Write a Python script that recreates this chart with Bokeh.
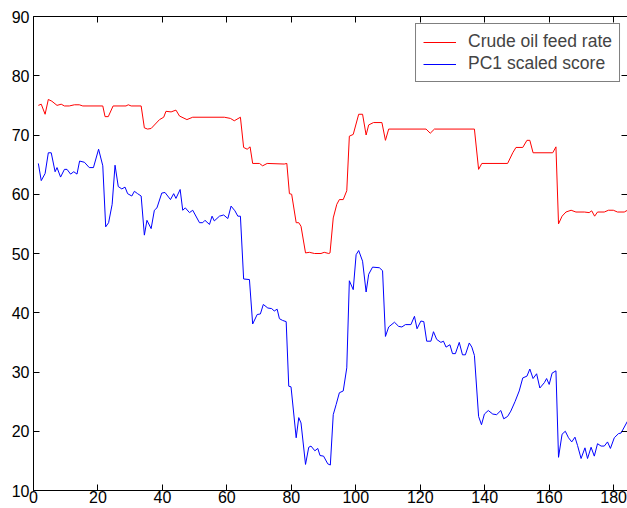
from bokeh.plotting import figure
from bokeh.models import (Range1d, LinearAxis, FixedTicker, Legend, LegendItem,
                          CustomLabelingPolicy)
from bokeh.embed import file_html
from bokeh.resources import INLINE

# Crude oil feed rate (red)
crude_x = [1.5, 2.4, 3.6, 4.6, 5.7, 7.3, 8.6, 9.6, 11.1, 12.7, 14.2, 15.3, 21.5, 22.2, 23.2,
           24.7, 28.7, 29.4, 30.3, 33.4, 34.4, 35.4, 36.5, 39.1, 40.4, 41.1, 42.7, 44.2, 45.3,
           47.6, 49.4, 59.2, 61.1, 62.3, 64.2, 65.2, 66.3, 67.2, 68.0, 70.1, 71.1, 72.5, 77.8,
           78.6, 79.4, 80.1, 81.5, 82.3, 83.0, 84.4, 85.6, 87.2, 89.2, 90.2, 91.6, 92.0, 93.0,
           94.1, 94.9, 96.1, 97.2, 98.0, 99.2, 100.9, 102.1, 103.2, 104.0, 105.5, 108.1, 109.2,
           110.2, 121.8, 123.1, 124.4, 136.8, 138.1, 139.1, 147.1, 148.7, 149.7, 151.8, 153.1,
           154.0, 155.0, 161.1, 162.1, 162.9, 164.0, 165.2, 166.8, 168.3, 170.9, 172.4, 173.2,
           174.1, 175.0, 177.1, 178.4, 179.9, 181.2, 183.3, 184.3]
crude_y = [75.0, 75.2, 73.5, 76.0, 75.7, 75.0, 75.2, 74.9, 74.9, 75.1, 75.1, 74.9, 74.9, 73.1, 73.1,
           74.9, 74.9, 75.1, 74.9, 74.9, 71.2, 71.0, 71.1, 72.6, 73.0, 74.0, 73.9, 74.2, 73.2,
           72.6, 73.0, 73.0, 72.8, 72.4, 73.0, 67.9, 67.6, 68.0, 65.2, 65.2, 64.8, 65.2, 65.1,
           65.2, 60.1, 60.0, 55.2, 55.2, 54.6, 50.1, 50.2, 50.0, 50.0, 50.2, 50.0, 50.1, 56.0,
           58.3, 59.1, 59.1, 60.6, 69.8, 70.1, 73.5, 73.5, 70.0, 71.7, 72.1, 72.1, 69.1,
           71.0, 71.0, 70.3, 71.0, 71.0, 64.2, 65.2, 65.2, 67.0, 67.9, 67.9, 69.1,
           69.1, 67.0, 67.0, 68.0, 55.0, 56.3, 57.0, 57.3, 57.0, 57.0, 56.9, 57.2,
           56.3, 57.0, 57.0, 57.3, 57.3, 57.0, 57.0, 57.3]

# PC1 scaled score (blue)
pc1_x = [1.5, 2.4, 3.6, 4.6, 5.5, 6.7, 7.3, 8.4, 9.6, 10.4, 11.5, 12.5, 13.5, 14.3, 15.8, 17.3,
         18.6, 20.2, 21.5, 22.4, 23.3, 24.4, 25.3, 26.3, 27.4, 28.4, 29.2, 30.5, 31.3, 32.3,
         33.4, 34.4, 35.2, 36.5, 37.5, 38.3, 39.8, 40.8, 42.5, 43.5, 44.2, 45.5, 46.3, 47.1,
         48.4, 49.4, 51.5, 52.5, 53.2, 54.6, 55.4, 56.1, 57.7, 59.0, 60.3, 61.3, 62.5, 63.4,
         64.2, 65.2, 67.0, 68.0, 69.4, 70.4, 71.3, 72.7, 73.9, 74.7, 75.6, 76.3, 77.3, 78.4,
         79.2, 79.9, 81.5, 82.3, 83.0, 84.4, 85.4, 86.1, 87.3, 88.2, 88.9, 90.0, 91.3, 92.1,
         93.0, 93.9, 94.9, 96.1, 97.2, 98.0, 99.2, 100.1, 100.9, 102.1, 103.2, 104.0, 105.2,
         107.3, 108.3, 109.2, 110.2, 112.0, 113.3, 114.3, 115.4, 117.1, 118.2, 119.0, 120.2,
         121.1, 122.0, 123.3, 124.1, 125.1, 126.4, 127.2, 128.0, 129.2, 130.0, 130.9, 132.1,
         133.1, 134.0, 135.2, 136.0, 136.8, 138.1, 139.0, 139.9, 141.1, 142.5, 143.7, 145.0,
         145.9, 147.1, 148.1, 149.4, 150.7, 151.8, 153.1, 154.0, 155.0, 156.1, 157.1, 158.5,
         159.2, 160.0, 160.9, 162.1, 162.9, 164.0, 165.0, 166.0, 167.0, 168.0, 168.8, 169.9,
         171.1, 171.9, 173.0, 174.0, 175.0, 176.1, 177.1, 178.1, 179.0, 180.2, 181.5, 182.3,
         184.3]
pc1_y = [65.2, 62.3, 63.5, 67.0, 67.0, 63.8, 64.5, 62.9, 64.2, 64.2, 63.4, 63.8, 63.4, 65.6, 65.4, 64.5,
         64.5, 67.6, 64.8, 54.5, 55.2, 58.3, 64.9, 61.3, 60.9, 61.2, 60.1, 59.7, 60.5, 60.1,
         59.7, 53.1, 55.6, 54.2, 57.3, 57.7, 60.2, 60.3, 59.1, 60.1, 59.3, 60.8, 57.3, 57.7,
         56.9, 57.3, 55.2, 55.2, 55.6, 54.9, 56.3, 55.5, 56.3, 56.5, 55.9, 58.0, 57.2, 56.3,
         56.3, 45.7, 45.6, 38.1, 39.7, 39.8, 41.4, 40.8, 40.7, 40.3, 40.6, 39.0, 38.7, 38.5,
         27.6, 27.5, 18.9, 22.3, 21.4, 14.4, 17.3, 17.5, 16.7, 17.1, 15.9, 15.8, 14.5, 14.3,
         22.8, 24.5, 26.5, 26.8, 30.7, 45.4, 43.9, 49.8, 50.5, 48.7, 43.5, 46.5, 47.7,
         47.6, 47.1, 36.0, 37.6, 38.4, 37.7, 37.6, 38.0, 38.0, 39.4, 37.3, 38.6,
         38.5, 35.2, 35.2, 36.8, 35.5, 35.0, 35.2, 34.2, 34.6, 33.1, 33.1, 35.0,
         32.9, 32.9, 34.9, 34.2, 32.8, 22.5, 21.1, 22.9, 23.5, 22.9, 22.8, 23.5,
         22.1, 22.5, 23.4, 25.0, 26.8, 29.0, 29.3, 30.5, 28.9, 29.7, 27.3, 28.2,
         28.9, 27.9, 29.8, 30.2, 15.6, 19.5, 20.0, 18.9, 18.2, 19.0, 17.6, 15.4,
         17.2, 15.4, 17.3, 15.8, 17.9, 17.5, 17.5, 18.2, 17.1, 18.9, 19.6, 19.7,
         21.7]

x_ticks = [0, 20, 40, 60, 80, 100, 120, 140, 160, 180]
y_ticks = [10, 20, 30, 40, 50, 60, 70, 80, 90]
labels = ["Crude oil feed rate", "PC1 scaled score"]

FONT = "Liberation Sans"

p = figure(width=627, height=508, output_backend="svg", toolbar_location=None,
           x_range=Range1d(0, 184.3), y_range=Range1d(10, 90),
           min_border_left=33, min_border_right=0, min_border_top=16, min_border_bottom=18,
           x_axis_location="below", y_axis_location="left")
p.outline_line_color = None
p.xgrid.visible = False
p.ygrid.visible = False
p.background_fill_color = "white"
p.border_fill_color = "white"

for ax, ticks in ((p.xaxis[0], x_ticks), (p.yaxis[0], y_ticks)):
    ax.ticker = FixedTicker(ticks=ticks)
    ax.minor_tick_line_color = None
    ax.major_tick_in = 6
    ax.major_tick_out = 0
    ax.axis_line_color = "black"
    ax.major_tick_line_color = "black"
    ax.major_label_text_font = FONT
    ax.major_label_text_font_size = "16px"
    ax.major_label_text_color = "black"
p.xaxis[0].major_label_standoff = 0
p.yaxis[0].major_label_standoff = 4

no_labels = CustomLabelingPolicy(code="return new Set()")

top_axis = LinearAxis(ticker=FixedTicker(ticks=x_ticks), major_label_text_font_size="0px",
                      major_label_standoff=0, major_tick_in=6, major_tick_out=0,
                      major_label_policy=no_labels,
                      minor_tick_line_color=None, axis_line_color="black")
right_axis = LinearAxis(ticker=FixedTicker(ticks=y_ticks), major_label_text_font_size="0px",
                        major_label_standoff=0, major_tick_in=6, major_tick_out=0,
                        major_label_policy=no_labels,
                        minor_tick_line_color=None, axis_line_color=None)
p.add_layout(top_axis, "above")
p.add_layout(right_axis, "right")

r1 = p.line(crude_x, crude_y, line_color="#ff0000", line_width=1)
r2 = p.line(pc1_x, pc1_y, line_color="#0000ff", line_width=1)

legend = Legend(items=[LegendItem(label=labels[0], renderers=[r1]),
                       LegendItem(label=labels[1], renderers=[r2])],
                location="top_right", margin=7, padding=7, spacing=1,
                glyph_width=33, glyph_height=18, label_height=18, label_standoff=12,
                label_text_font=FONT, label_text_font_size="17.5px",
                border_line_color="black", border_line_width=1,
                background_fill_color="white", background_fill_alpha=1)
p.add_layout(legend)

open("out.html", "w").write(file_html(p, INLINE))
